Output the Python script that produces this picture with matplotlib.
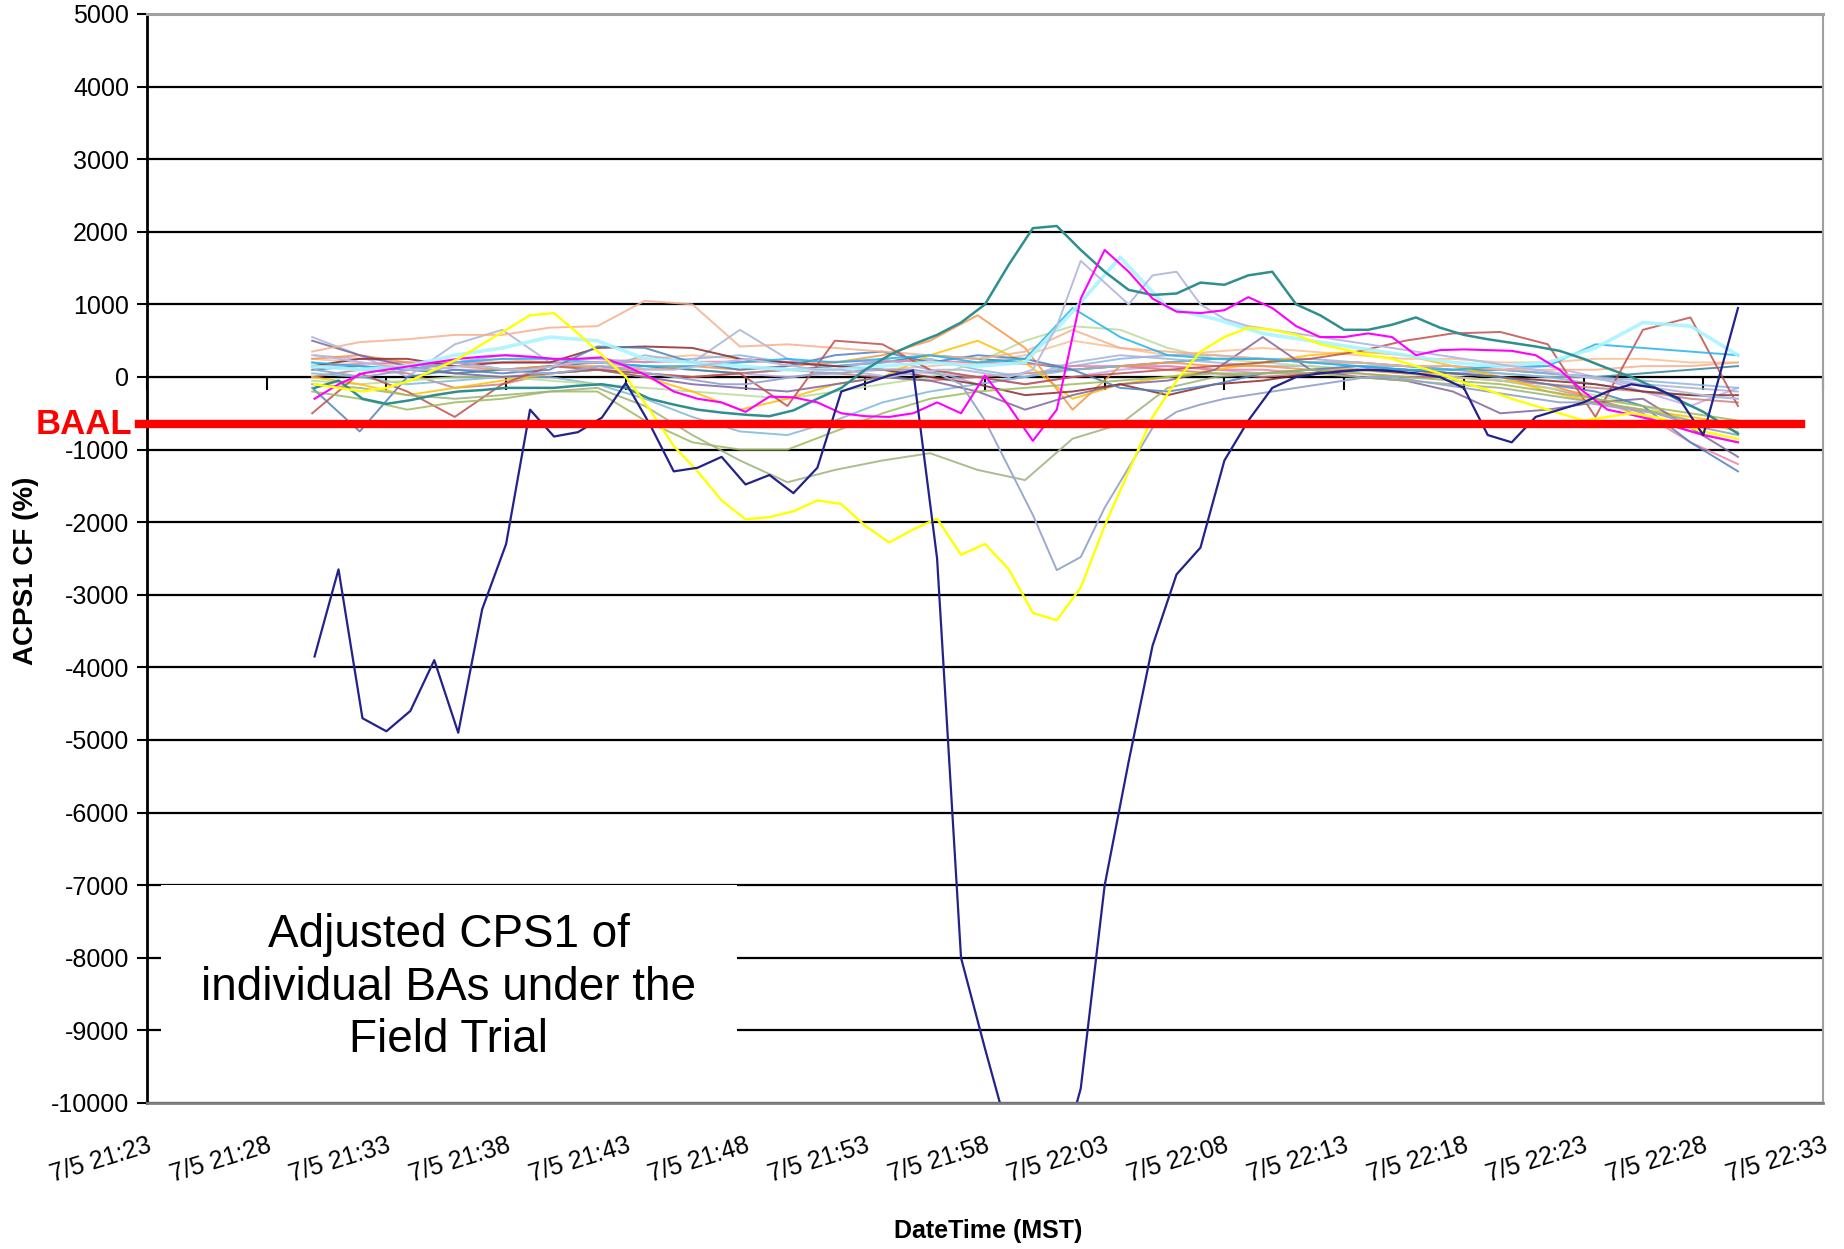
import numpy as np
import matplotlib.pyplot as plt
import matplotlib.font_manager as fm
from matplotlib.patches import Rectangle

# minutes after 7/5 21:23
t1 = np.append(np.arange(7, 66), 66.45)   # 1 minute samples
t2 = np.linspace(6.9, 66.45, 31)          # 2 minute samples

tick_pos = list(range(0, 71, 5))
tick_labels = ['7/5 21:23', '7/5 21:28', '7/5 21:33', '7/5 21:38', '7/5 21:43',
               '7/5 21:48', '7/5 21:53', '7/5 21:58', '7/5 22:03', '7/5 22:08',
               '7/5 22:13', '7/5 22:18', '7/5 22:23', '7/5 22:28', '7/5 22:33']
BAAL = -650

navy = [-3850, -2650, -4700, -4880, -4600, -3900, -4900, -3200, -2300, -450,
        -820, -760, -560, -80, -650, -1300, -1250, -1100, -1480, -1350,
        -1600, -1250, -200, -90, 20, 90, -2500, -8000, -9250, -10450,
        -11500, -11000, -9800, -7000, -5300, -3700, -2720, -2350, -1150, -600,
        -150, 0, 50, 80, 100, 80, 50, 0, -150, -800,
        -900, -550, -450, -350, -200, -100, -150, -300, -800, 950]
yellow = [-100, -150, -200, -150, -50, 100, 250, 450, 650, 850,
          880, 600, 300, 0, -450, -950, -1300, -1700, -1960, -1930,
          -1850, -1700, -1750, -2050, -2280, -2100, -1950, -2450, -2300, -2650,
          -3250, -3350, -2900, -2050, -1300, -550, -50, 350, 550, 680,
          650, 580, 450, 380, 300, 250, 150, 50, -80, -180,
          -300, -400, -500, -600, -550, -500, -550, -650, -750, -850]
teal = [-150, -50, -300, -370, -320, -250, -200, -180, -150, -150,
        -150, -120, -100, -150, -300, -380, -450, -490, -520, -540,
        -460, -300, -150, 100, 300, 450, 580, 750, 1000, 1550,
        2050, 2080, 1750, 1450, 1200, 1130, 1150, 1300, 1270, 1400,
        1450, 1000, 850, 650, 650, 720, 820, 680, 580, 520,
        470, 420, 360, 250, 120, 0, -150, -320, -480, -780]
magenta = [-300, -100, 50, 100, 150, 200, 250, 280, 300, 280,
           250, 250, 270, 150, 0, -200, -300, -350, -480, -270,
           -280, -350, -500, -540, -550, -500, -350, -500, 20, -400,
           -880, -450, 1080, 1750, 1450, 1080, 900, 880, 920, 1100,
           950, 700, 550, 550, 600, 550, 300, 370, 380, 370,
           360, 300, 100, -200, -450, -520, -600, -700, -800, -900]
steel_dip = [100, 50, 0, 50, 100, 150, 200, 150, 100, 50,
             50, 100, 150, 100, 50, 0, -50, -100, -100, -50,
             0, 50, 50, 100, 100, 100, 50, -100, -600, -1250,
             -1900, -2660, -2480, -1800, -1250, -700, -480, -380, -300, -250,
             -200, -150, -100, -50, 0, 0, -50, -100, -150, -200,
             -250, -300, -350, -350, -400, -450, -500, -600, -700, -800]
lavender = [300, 250, 200, 150, 100, 100, 150, 150, 100, 100,
            150, 200, 200, 150, 100, 100, 150, 200, 250, 200,
            150, 100, 100, 50, 0, 50, 100, 100, 50, 0,
            100, 700, 1600, 1300, 1000, 1400, 1450, 1000, 800, 700,
            650, 600, 550, 500, 450, 400, 350, 300, 250, 200,
            150, 100, 50, 0, -50, -100, -150, -200, -250, -300]

salmon = [350, 480, 520, 580, 580, 680, 700, 1050, 1000, 420,
          450, 400, 350, 300, 250, 350, 650, 400, 350, 300,
          250, 200, 200, 150, 150, 100, 100, 100, 150, 150, 200]
brown_red = [-500, 50, -200, -550, -100, 150, 100, 50, 0, 50,
             -400, 500, 450, 100, 0, -100, 0, 50, 100, 150,
             200, 250, 350, 500, 600, 620, 450, -550, 650, 820, -400]
maroon = [150, 250, 250, 150, 200, 200, 400, 420, 400, 250,
          200, 150, 100, 0, -100, -250, -200, -100, -250, -100,
          -50, 50, 100, 100, 50, 0, -50, -100, -200, -250, -250]
steel_blue = [-150, -750, 0, 100, 50, 100, 420, 400, 200, 100,
              150, 300, 350, 200, 300, 250, 100, -150, -200, -100,
              50, 100, 150, 100, 50, 0, -100, -200, -400, -900, -1300]
orange = [250, 300, 200, 150, 100, 150, 150, 100, 150, 100,
          150, 200, 300, 500, 850, 400, -450, 150, 200, 150,
          150, 100, 100, 50, 50, 0, -100, -300, -550, -750, -900]
amber = [0, -100, -250, -150, -50, 50, 100, 0, -200, -450,
         -300, -100, 0, 300, 500, 200, -300, -100, 0, 100,
         200, 300, 350, 300, 150, 0, -200, -350, -450, -550, -650]
purple = [500, 300, 150, 50, 0, 50, 100, 0, -100, -150,
          -200, -100, 0, -50, -200, -450, -250, -100, -50, 100,
          550, 100, 0, -50, -200, -500, -450, -350, -300, -700, -1100]
olive1 = [-200, -300, -450, -350, -300, -200, -200, -600, -900, -1000,
          -1000, -750, -500, -300, -200, -150, -100, -50, 0, 50,
          50, 100, 50, 0, -50, -100, -200, -300, -400, -500, -600]
olive2 = [-100, -150, -250, -300, -250, -200, -150, -400, -800, -1150,
          -1450, -1280, -1150, -1050, -1280, -1420, -850, -650, -150, 0,
          50, 50, 0, -50, -100, -150, -250, -350, -450, -600, -700]
aqua_light = [50, 0, -100, -50, 0, 0, -100, -300, -550, -750,
              -800, -600, -350, -200, -100, 0, 100, 150, 200, 250,
              250, 200, 150, 150, 100, 50, 0, -100, -200, -250, -300]
gray_blue = [550, 300, 0, 450, 650, 200, 100, 300, 200, 650,
             250, 100, 250, 100, -100, 0, 200, 300, 250, 200,
             150, 150, 100, 100, 50, 50, 0, 0, -100, -150, -200]
light_green = [-50, -100, -50, 0, 0, -50, -100, -150, -200, -250,
               -300, -200, -100, 0, 200, 500, 700, 650, 400, 250,
               200, 150, 100, 50, 0, -50, -150, -250, -400, -600, -750]
pink = [150, 180, 200, 200, 200, 200, 200, 210, 210, 210,
        210, 210, 220, 220, 200, 180, 150, 150, 150, 100,
        100, 50, 50, 0, 0, -50, -150, -300, -500, -900, -1200]
peach = [250, 200, 150, 200, 250, 200, 200, 250, 300, 250,
         200, 150, 100, 150, 200, 300, 500, 400, 300, 350,
         400, 350, 300, 250, 250, 200, 200, 250, 250, 200, 200]
light_purple = [300, 250, 200, 100, 100, 50, 100, 150, 100, 50,
                0, 50, 100, 50, 0, -100, 0, 100, 150, 100,
                50, 100, 150, 100, 50, 100, 150, 0, -200, -400, -150]
dark_teal = [100, 150, 100, 50, 100, 150, 200, 150, 100, 50,
             100, 150, 200, 300, 250, 200, 100, 150, 200, 250,
             250, 200, 200, 150, 100, 100, 50, 0, 50, 100, 150]
rose_brown = [0, 100, 50, -150, -100, 50, 100, 50, 0, 50,
              100, 50, 0, -50, 0, 50, 100, 150, 100, 50,
              0, 50, 100, 50, 0, -50, -100, -150, -200, -300, -350]
sky_light = [200, 100, 150, 200, 300, 250, 250, 200, 250, 300,
             200, 150, 200, 250, 100, 0, 150, 250, 300, 300,
             250, 250, 200, 150, 150, 100, 50, 0, -50, -100, -150]
light_cyan = [150, 100, 150, 300, 400, 550, 500, 250, 200, 150,
              100, 100, 150, 200, 150, 200, 900, 1650, 950, 800,
              600, 500, 400, 300, 200, 150, 200, 400, 750, 700, 300]
sky_blue = [200, 150, 100, 200, 250, 250, 200, 150, 150, 200,
            250, 200, 250, 300, 200, 250, 950, 550, 300, 250,
            250, 200, 150, 100, 100, 150, 150, 450, 400, 350, 300]

names = {f.name for f in fm.fontManager.ttflist}
if 'Liberation Sans Narrow' in names:
    narrow, tick_size = 'Liberation Sans Narrow', 21
else:
    narrow, tick_size = 'Liberation Sans', 18
plt.rcParams['font.family'] = ['Liberation Sans', 'DejaVu Sans']
plt.rcParams['axes.unicode_minus'] = False

fig = plt.figure(figsize=(18.44, 12.49), dpi=100)
ax = fig.add_axes([0.0797, 0.1169, 0.9089, 0.8719])

background = [(peach, '#FAC090'), (light_purple, '#C5A8E8'), (dark_teal, '#31859C'),
              (rose_brown, '#D08080'), (sky_light, '#8EB4E3'), (pink, '#F27DA6'),
              (gray_blue, '#A6B3D9'), (aqua_light, '#7FB9D6'), (light_green, '#B9DC98'),
              (amber, '#FFC000'), (orange, '#F79646'), (purple, '#8064A2'),
              (maroon, '#8B2A2A'), (steel_blue, '#4F81BD'), (salmon, '#F9AE8C'),
              (brown_red, '#C0504D'), (sky_blue, '#1FB5EE'), (olive1, '#9BBB59'),
              (olive2, '#9CB17A')]
for vals, col in background:
    ax.plot(t2, vals, color=col, lw=1.4, alpha=0.85)
ax.plot(t2, light_cyan, color='#A8F4FF', lw=2.6, alpha=0.9)

ax.plot(t1, steel_dip, color='#9AAACF', lw=1.4)
ax.plot(t1, lavender, color='#B8BCE0', lw=1.4)
ax.plot(t1, teal, color='#2F8F8F', lw=1.8)
ax.plot(t1, magenta, color='#FF00FF', lw=1.5)
ax.plot(t1, yellow, color='#FFFF00', lw=1.7)
ax.plot(t1, navy, color='#22228C', lw=1.6)

ax.set_xlim(0, 70)
ax.set_ylim(-10000, 5000)
ax.set_yticks(range(-10000, 5001, 1000))
ax.yaxis.grid(True, color='black', lw=1.6)
ax.set_axisbelow(True)
ax.tick_params(axis='y', direction='out', length=7, width=1.5, labelsize=tick_size, pad=6)
for lab in ax.get_yticklabels():
    lab.set_fontfamily(narrow)

ax.set_xticks(tick_pos)
ax.set_xticklabels(tick_labels, fontsize=tick_size, family=narrow)
ax.tick_params(axis='x', length=0, pad=22)
plt.setp(ax.get_xticklabels(), rotation=17, ha='right', va='top', rotation_mode='anchor')

# category axis crossing at zero
sec = ax.secondary_xaxis(2 / 3)
sec.set_xticks(tick_pos)
sec.tick_params(direction='in', length=9, width=1.5, labeltop=False, labelbottom=False)

ax.spines['left'].set_linewidth(2)
ax.spines['top'].set_color('#A0A0A0')
ax.spines['top'].set_linewidth(2.2)
ax.spines['right'].set_color('#A0A0A0')
ax.spines['right'].set_linewidth(1.5)
ax.spines['bottom'].set_color('#808080')
ax.spines['bottom'].set_linewidth(2)

ax.text(-0.072, 0.489, 'ACPS1 CF (%)', transform=ax.transAxes, rotation=90,
        ha='center', va='center', fontsize=20, fontweight='bold')
ax.text(0.502, -0.1175, 'DateTime (MST)', transform=ax.transAxes, ha='center',
        va='center', fontsize=tick_size, fontweight='bold', family=narrow)

ax.axhline(BAAL, xmin=-0.005, xmax=0.987, color='#FF0000', lw=6, clip_on=False, zorder=5)
ax.text(-0.0085, BAAL, 'BAAL', transform=ax.get_yaxis_transform(), ha='right',
        va='center', color='#FF0000', fontsize=25, fontweight='bold')

ax.add_patch(Rectangle((0.0084, 0.012), 0.3436, 0.188, transform=ax.transAxes,
                       facecolor='white', edgecolor='none', zorder=3))
ax.text(0.1802, 0.1056, 'Adjusted CPS1 of\nindividual BAs under the\nField Trial',
        transform=ax.transAxes, ha='center', va='center', fontsize=33,
        linespacing=1.25, zorder=4)

fig.savefig('out.png', dpi=100)
